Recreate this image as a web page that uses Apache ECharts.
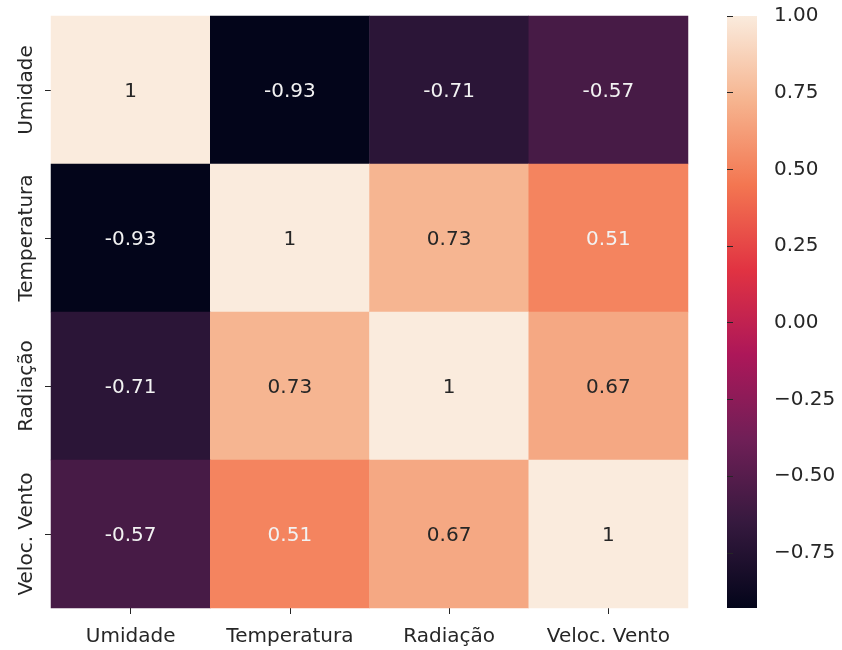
<!DOCTYPE html>
<html>
<head>
<meta charset="utf-8">
<script src="https://cdn.jsdelivr.net/npm/echarts@6/dist/echarts.min.js"></script>
<style>
html,body{margin:0;padding:0;background:#fff;}
#chart{width:842px;height:650px;}
</style>
</head>
<body>
<div id="chart"></div>
<script>
// ---- data ----
var categories = ['Umidade', 'Temperatura', 'Radiação', 'Veloc. Vento'];
var rowUmidade     = [1, -0.93, -0.71, -0.57];
var rowTemperatura = [-0.93, 1, 0.73, 0.51];
var rowRadiacao    = [-0.71, 0.73, 1, 0.67];
var rowVelocVento  = [-0.57, 0.51, 0.67, 1];
var colorbarTicks  = [-0.75, -0.5, -0.25, 0, 0.25, 0.5, 0.75, 1.0];
var vMin = -0.93, vMax = 1.0;

// rocket colormap stops (evenly spaced)
var rocket = ['#03051a', '#35193e', '#701f57', '#ad1759', '#e13342', '#f37651', '#f6b48f', '#faebdd'];

var rows = [rowUmidade, rowTemperatura, rowRadiacao, rowVelocVento];
var data = [];
rows.forEach(function (row, r) {
  row.forEach(function (v, c) {
    data.push({
      value: [c, r, v],
      label: { color: v < 0.6 ? '#f2f2f2' : '#262626' }
    });
  });
});

function fmtCell(v) {
  if (v === 1) return '1';
  return v.toFixed(2);
}

var gradStops = rocket.map(function (c, i) { return { offset: i / (rocket.length - 1), color: c }; });

var FONT = 'DejaVu Sans';
var chart = echarts.init(document.getElementById('chart'), null, { renderer: 'canvas' });
chart.setOption({
  backgroundColor: '#ffffff',
  animation: false,
  grid: [
    { left: 51, right: 154, top: 16, bottom: 42 },
    { left: 727, top: 16, width: 30, height: 592, show: true, borderWidth: 0,
      backgroundColor: new echarts.graphic.LinearGradient(0, 1, 0, 0, gradStops) }
  ],
  xAxis: [
    {
      type: 'category', data: categories, gridIndex: 0,
      axisLine: { show: false },
      axisTick: { show: true, alignWithLabel: true, interval: 0, length: 6, lineStyle: { color: '#262626', width: 1 } },
      axisLabel: { interval: 0, fontFamily: FONT, fontSize: 20, color: '#262626', margin: 19 },
      splitLine: { show: false }
    },
    { type: 'value', gridIndex: 1, show: false, min: 0, max: 1 }
  ],
  yAxis: [
    {
      type: 'category', data: categories, gridIndex: 0, inverse: true,
      axisLine: { show: false },
      axisTick: { show: true, alignWithLabel: true, interval: 0, length: 6, lineStyle: { color: '#262626', width: 1 } },
      axisLabel: { interval: 0, fontFamily: FONT, fontSize: 20, color: '#262626', rotate: 90, margin: 14 },
      splitLine: { show: false }
    },
    {
      type: 'value', gridIndex: 1, position: 'right', min: vMin, max: vMax,
      axisLine: { show: true, lineStyle: { color: 'rgba(0,0,0,0)' } },
      splitLine: { show: false },
      axisTick: { show: true, length: 6, customValues: colorbarTicks, lineStyle: { color: '#262626', width: 1 } },
      axisLabel: {
        fontFamily: FONT, fontSize: 20, color: '#262626', margin: 17,
        padding: [5, 0, 0, 0],
        customValues: colorbarTicks,
        formatter: function (v) { return (v < 0 ? '\u2212' : '') + Math.abs(v).toFixed(2); }
      }
    }
  ],
  visualMap: {
    type: 'continuous', min: vMin, max: vMax, seriesIndex: 0,
    show: false,
    inRange: { color: rocket }
  },
  series: [
    {
      type: 'heatmap', xAxisIndex: 0, yAxisIndex: 0,
      data: data,
      label: {
        show: true, fontFamily: FONT, fontSize: 20, offset: [0, 2],
        formatter: function (p) { return fmtCell(p.value[2]); }
      },
      itemStyle: { borderWidth: 0 },
      emphasis: { disabled: true }
    },
    { type: 'scatter', xAxisIndex: 1, yAxisIndex: 1, data: [] }
  ]
});
</script>
</body>
</html>
